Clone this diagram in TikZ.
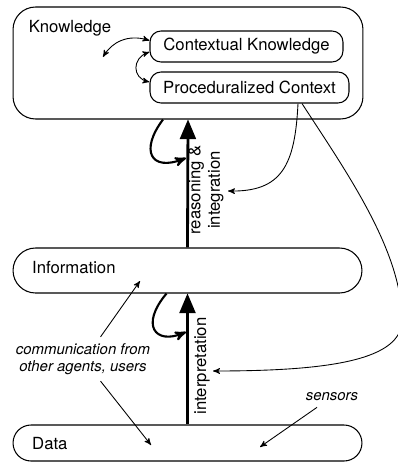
\documentclass[tikz,border=0pt]{standalone}
\usepackage{fontspec}
\setmainfont{TeX Gyre Heros}
\usepackage{tikz}
\usetikzlibrary{arrows}

\begin{document}
\begin{tikzpicture}[x=0.02cm,y=-0.02cm]
					\tikzstyle{bigbox}=[draw=black,line width=0.6pt,inner sep=0pt]
					\tikzstyle{smallbox}=[draw=black,line width=0.6pt,rounded corners=0.22cm,minimum height=0.62cm,inner sep=2pt,font=\fontsize{9.5}{11}\selectfont]
					\tikzstyle{label}=[font=\fontsize{9.5}{11}\selectfont]
					\tikzstyle{note}=[font=\fontsize{8.5}{10}\selectfont\itshape,align=center]
					\tikzstyle{thickarr}=[-triangle 45,line width=1.6pt]
					\tikzstyle{curlarr}=[-stealth',line width=1.2pt]
					\tikzstyle{thinarr}=[-stealth',line width=0.5pt]
					\useasboundingbox (0,0) rectangle (398,463);
					\node[bigbox,rounded corners=0.45cm,minimum width=7cm,minimum height=2.24cm] (know) at (188,63) {};
					\node[label] (knowt) at (70,28) {Knowledge};
					\node[smallbox,minimum width=3.86cm] (ck) at (246.5,46.5) {Contextual Knowledge};
					\node[smallbox,minimum width=3.98cm] (pc) at (249.5,87.5) {Proceduralized Context};
					\node[bigbox,rounded corners=0.45cm,minimum width=6.98cm,minimum height=0.9cm] (info) at (187.5,270.5) {};
					\node[label,anchor=west] (infot) at (26,268) {Information};
					\node[bigbox,rounded corners=0.36cm,minimum width=6.98cm,minimum height=0.72cm] (data) at (187.5,443) {};
					\node[label,anchor=west] (datat) at (26,444) {Data};
					\node[label,rotate=90,align=center] (reas) at (206,190) {reasoning \&\\integration};
					\node[label,rotate=90] (interp) at (202,366) {interpretation};
					\node[note] (comm) at (83,359) {communication from\\other agents, users};
					\node[note] (sens) at (332,397) {sensors};
					\coordinate (kn) at (103,57);
					\coordinate (up1) at (186,158);
					\coordinate (up2) at (186,332);
					\coordinate (ri) at (228,191);
					\coordinate (ii) at (213,371);
					\coordinate (infoin) at (140,281);
					\coordinate (datain) at (151,445);
					\coordinate (datain2) at (260,447);
					\draw[thickarr] (info.north) -- (know.south);
					\draw[thickarr] (data.north) -- (info.south);
					\draw[curlarr] ([xshift=-0.5cm]know.south) .. controls (140,150) and (150,172) .. (up1);
					\draw[curlarr] ([xshift=-0.42cm]info.south) .. controls (140,325) and (155,345) .. (up2);
					\draw[thinarr,stealth'-stealth'] (kn) .. controls (112,42) and (128,34) .. ([yshift=0.12cm]ck.west);
					\draw[thinarr,stealth'-stealth'] ([yshift=-0.11cm]ck.west) .. controls (132,58) and (132,78) .. ([yshift=0.11cm]pc.west);
					\draw[thinarr] ([xshift=0.97cm]pc.south) .. controls (295,165) and (282,192) .. (ri);
					\draw[thinarr] ([xshift=1.05cm]pc.south) .. controls (345,170) and (402,250) .. (402,320) .. controls (402,360) and (330,371) .. (ii);
					\draw[thinarr] ([xshift=0.35cm]comm.north) -- (infoin);
					\draw[thinarr] ([xshift=0.35cm]comm.south) -- (datain);
					\draw[thinarr] ([xshift=-0.3cm]sens.south) -- (datain2);
\end{tikzpicture}
\end{document}
